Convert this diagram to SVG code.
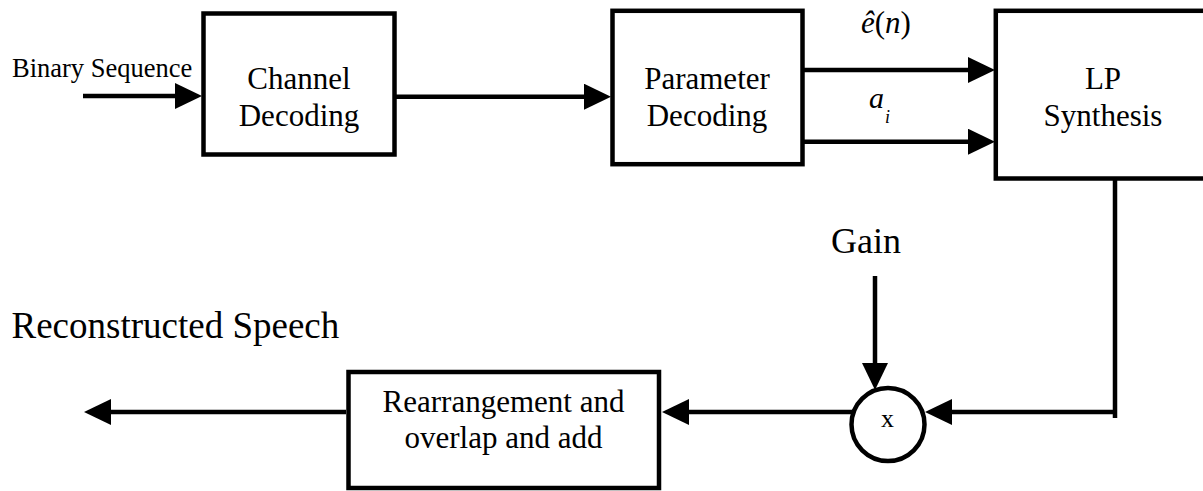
<svg xmlns="http://www.w3.org/2000/svg" width="1203" height="491" viewBox="0 0 1203 491" font-family="'Liberation Serif', 'Times New Roman', Tinos, 'DejaVu Serif', serif">
<style>
.box{fill:#fff;stroke:#000;stroke-width:4.5}
.ln{fill:none;stroke:#000;stroke-width:4.5}
.arr{marker-end:url(#ah)}
.lbl{font-size:31px;text-anchor:middle}
.it{font-style:italic}
</style>
<defs>
<marker id="ah" viewBox="0 0 27 26" refX="2" refY="13" markerWidth="27" markerHeight="26" markerUnits="userSpaceOnUse" orient="auto">
<path d="M0,0 L27,13 L0,26 z" fill="#000"/>
</marker>
</defs>
<rect width="1203" height="491" fill="#fff"/>
<g id="connectors">
<path class="ln arr" d="M83,96 H177"/>
<path class="ln arr" d="M396,96.7 H586"/>
<path class="ln arr" d="M804,70 H970"/>
<path class="ln arr" d="M804,141.7 H970"/>
<path class="ln" d="M1115,180 V418"/>
<path class="ln arr" d="M1117,412 H950"/>
<path class="ln arr" d="M875,276 V365"/>
<path class="ln arr" d="M853,412 H687"/>
<path class="ln arr" d="M346,412 H109"/>
</g>
<g id="label-binary"><text x="12" y="76.5" font-size="26.5">Binary Sequence</text></g>
<g id="channel-decoding">
<rect class="box" x="203.5" y="13.5" width="191" height="141"/>
<text class="lbl" x="299" y="89">Channel</text>
<text class="lbl" x="299" y="126">Decoding</text>
</g>
<g id="parameter-decoding">
<rect class="box" x="612.5" y="10.8" width="190" height="153.4"/>
<text class="lbl" x="707" y="89">Parameter</text>
<text class="lbl" x="707" y="126">Decoding</text>
</g>
<g id="label-e"><text class="it" x="861" y="32.5" font-size="31">ê<tspan font-style="normal">(</tspan>n<tspan font-style="normal">)</tspan></text></g>
<g id="label-a"><text class="it" x="869" y="108" font-size="30">a<tspan font-size="18" dx="1" dy="15">i</tspan></text></g>
<g id="lp-synthesis">
<rect class="box" x="995.8" y="10.8" width="230" height="167.7"/>
<text class="lbl" x="1103" y="89">LP</text>
<text class="lbl" x="1103" y="126">Synthesis</text>
</g>
<g id="label-gain"><text x="866" y="253" font-size="36" text-anchor="middle">Gain</text></g>
<g id="multiplier">
<circle cx="888" cy="424.5" r="36.5" fill="#fff" stroke="#000" stroke-width="4.5"/>
<text x="887.5" y="427" font-size="26" text-anchor="middle">x</text>
</g>
<g id="rearrangement">
<rect class="box" x="348.5" y="372" width="310.5" height="116"/>
<text class="lbl" x="503.5" y="411.5">Rearrangement and</text>
<text class="lbl" x="503.5" y="448">overlap and add</text>
</g>
<g id="label-reconstructed"><text x="11.5" y="337.5" font-size="37">Reconstructed Speech</text></g>
</svg>
